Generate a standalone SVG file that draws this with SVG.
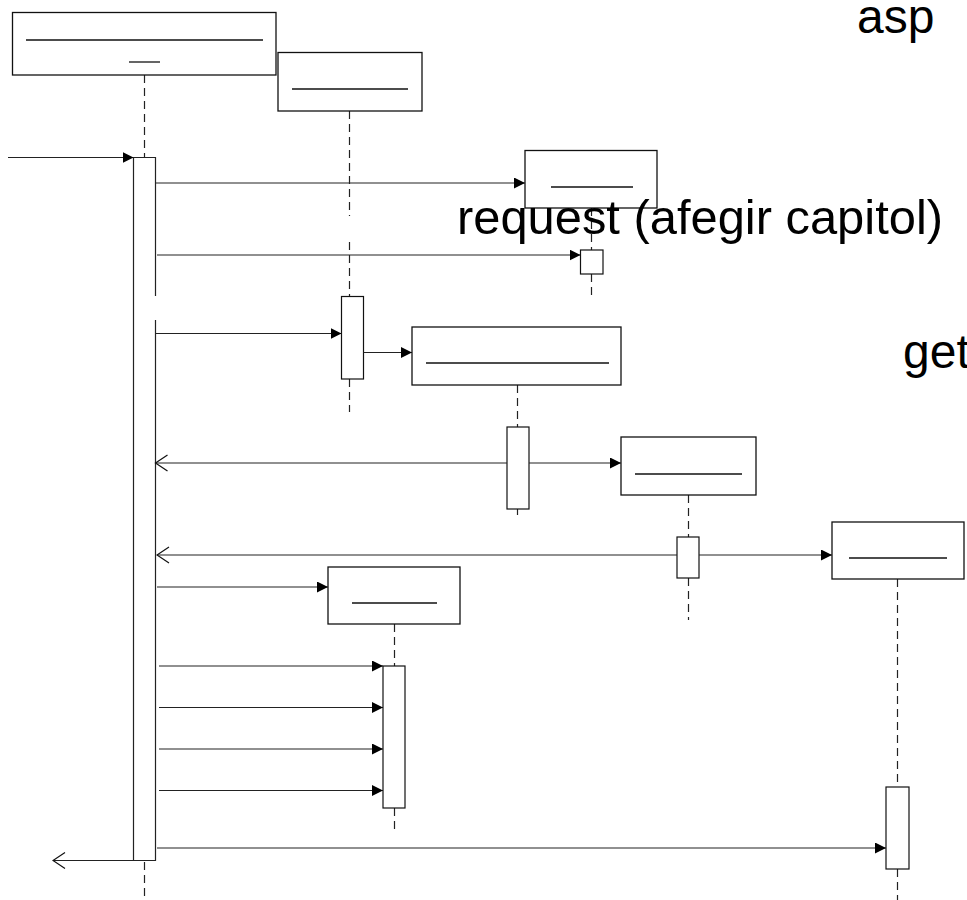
<svg xmlns="http://www.w3.org/2000/svg" width="967" height="900" viewBox="0 0 967 900">
<style>
.box{fill:#fff;stroke:#111;stroke-width:1.3}
.bar{fill:#fff;stroke:#111;stroke-width:1.2}
.name{stroke:#111;stroke-width:1.3}
.life{stroke:#222;stroke-width:1.2;stroke-dasharray:8,5;fill:none}
.msg{stroke:#222;stroke-width:1.2;fill:none}
.call{marker-end:url(#filled)}
.ret{marker-end:url(#open)}
.lbl{font-family:"Liberation Sans",Arial,sans-serif;font-size:48px;fill:#000}
</style>
<defs>
<marker id="filled" markerUnits="userSpaceOnUse" markerWidth="12" markerHeight="12" refX="11" refY="5.5" orient="auto">
<path d="M0,0 L11,5.5 L0,11 z" fill="#000"/>
</marker>
<marker id="open" markerUnits="userSpaceOnUse" markerWidth="14" markerHeight="18" refX="12.5" refY="8.5" orient="auto">
<path d="M0.5,0.5 L12.5,8.5 L0.5,16.5" fill="none" stroke="#111" stroke-width="1.2"/>
</marker>
</defs>

<g id="lifelines">
<line class="life" x1="144.5" y1="75" x2="144.5" y2="157"/>
<line class="life" x1="144.5" y1="862" x2="144.5" y2="900"/>
<line class="life" x1="349.5" y1="111" x2="349.5" y2="216"/>
<line class="life" x1="349.5" y1="242" x2="349.5" y2="296"/>
<line class="life" x1="349.5" y1="379" x2="349.5" y2="412"/>
<line class="life" x1="591.5" y1="208" x2="591.5" y2="250"/>
<line class="life" x1="591.5" y1="274" x2="591.5" y2="298"/>
<line class="life" x1="517.5" y1="385" x2="517.5" y2="427"/>
<line class="life" x1="517.5" y1="509" x2="517.5" y2="515"/>
<line class="life" x1="688.5" y1="495" x2="688.5" y2="537"/>
<line class="life" x1="688.5" y1="578" x2="688.5" y2="620"/>
<line class="life" x1="897.5" y1="579" x2="897.5" y2="787"/>
<line class="life" x1="897.5" y1="869" x2="897.5" y2="900"/>
<line class="life" x1="394.5" y1="624" x2="394.5" y2="666"/>
<line class="life" x1="394.5" y1="808" x2="394.5" y2="830"/>
</g>

<g id="node-main">
<rect class="box" x="12.5" y="12.5" width="263.5" height="62.5"/>
<line class="name" x1="26" y1="40" x2="263" y2="40"/>
<line class="name" x1="129" y1="62" x2="160" y2="62"/>
</g>
<g id="node-2">
<rect class="box" x="278" y="52.5" width="144" height="58.5"/>
<line class="name" x1="292" y1="89" x2="408" y2="89"/>
</g>
<g id="node-3">
<rect class="box" x="525" y="150.5" width="132" height="57.5"/>
<line class="name" x1="551" y1="187" x2="633" y2="187"/>
</g>
<g id="node-4">
<rect class="box" x="412" y="327" width="209" height="58"/>
<line class="name" x1="426" y1="363" x2="609" y2="363"/>
</g>
<g id="node-5">
<rect class="box" x="621" y="437" width="135" height="58"/>
<line class="name" x1="635" y1="474" x2="742" y2="474"/>
</g>
<g id="node-6">
<rect class="box" x="832" y="522" width="132" height="57"/>
<line class="name" x1="849" y1="558" x2="947" y2="558"/>
</g>
<g id="node-7">
<rect class="box" x="328" y="567" width="132" height="57"/>
<line class="name" x1="352" y1="603" x2="437" y2="603"/>
</g>

<g id="activations">
<rect x="133.5" y="157.5" width="22" height="703" fill="#fff"/>
<path class="msg" d="M155.5,296 L155.5,157.5 L133.5,157.5 L133.5,860.5 L155.5,860.5 L155.5,320"/>
<rect class="bar" x="341.5" y="296.5" width="22" height="82.5"/>
<rect class="bar" x="580.5" y="250" width="22.5" height="24"/>
<rect class="bar" x="507" y="427" width="22" height="82"/>
<rect class="bar" x="677" y="537" width="22" height="41"/>
<rect class="bar" x="886" y="787" width="23" height="82"/>
<rect class="bar" x="383" y="666" width="22" height="142"/>
</g>

<g id="connectors">
<line class="msg call" x1="8" y1="157.5" x2="133.5" y2="157.5"/>
<line class="msg call" x1="155.5" y1="183" x2="525" y2="183"/>
<line class="msg call" x1="157" y1="255" x2="580.5" y2="255"/>
<line class="msg call" x1="155.5" y1="333.5" x2="341.5" y2="333.5"/>
<line class="msg call" x1="363.5" y1="352.5" x2="412" y2="352.5"/>
<line class="msg ret" x1="507" y1="463" x2="155.5" y2="463"/>
<line class="msg call" x1="529" y1="463" x2="621" y2="463"/>
<line class="msg ret" x1="677" y1="555" x2="157" y2="555"/>
<line class="msg call" x1="699" y1="555" x2="832" y2="555"/>
<line class="msg call" x1="157" y1="587" x2="328" y2="587"/>
<line class="msg call" x1="159" y1="666" x2="383" y2="666"/>
<line class="msg call" x1="159" y1="707.5" x2="383" y2="707.5"/>
<line class="msg call" x1="159" y1="749" x2="383" y2="749"/>
<line class="msg call" x1="159" y1="790.5" x2="383" y2="790.5"/>
<line class="msg call" x1="157" y1="848" x2="886" y2="848"/>
<line class="msg ret" x1="133.5" y1="860.5" x2="53" y2="860.5"/>
</g>

<g id="labels">
<text class="lbl" x="857" y="33">asp</text>
<text class="lbl" x="457" y="234" textLength="486" lengthAdjust="spacingAndGlyphs">request (afegir capitol)</text>
<text class="lbl" x="903" y="368">get</text>
</g>
</svg>
